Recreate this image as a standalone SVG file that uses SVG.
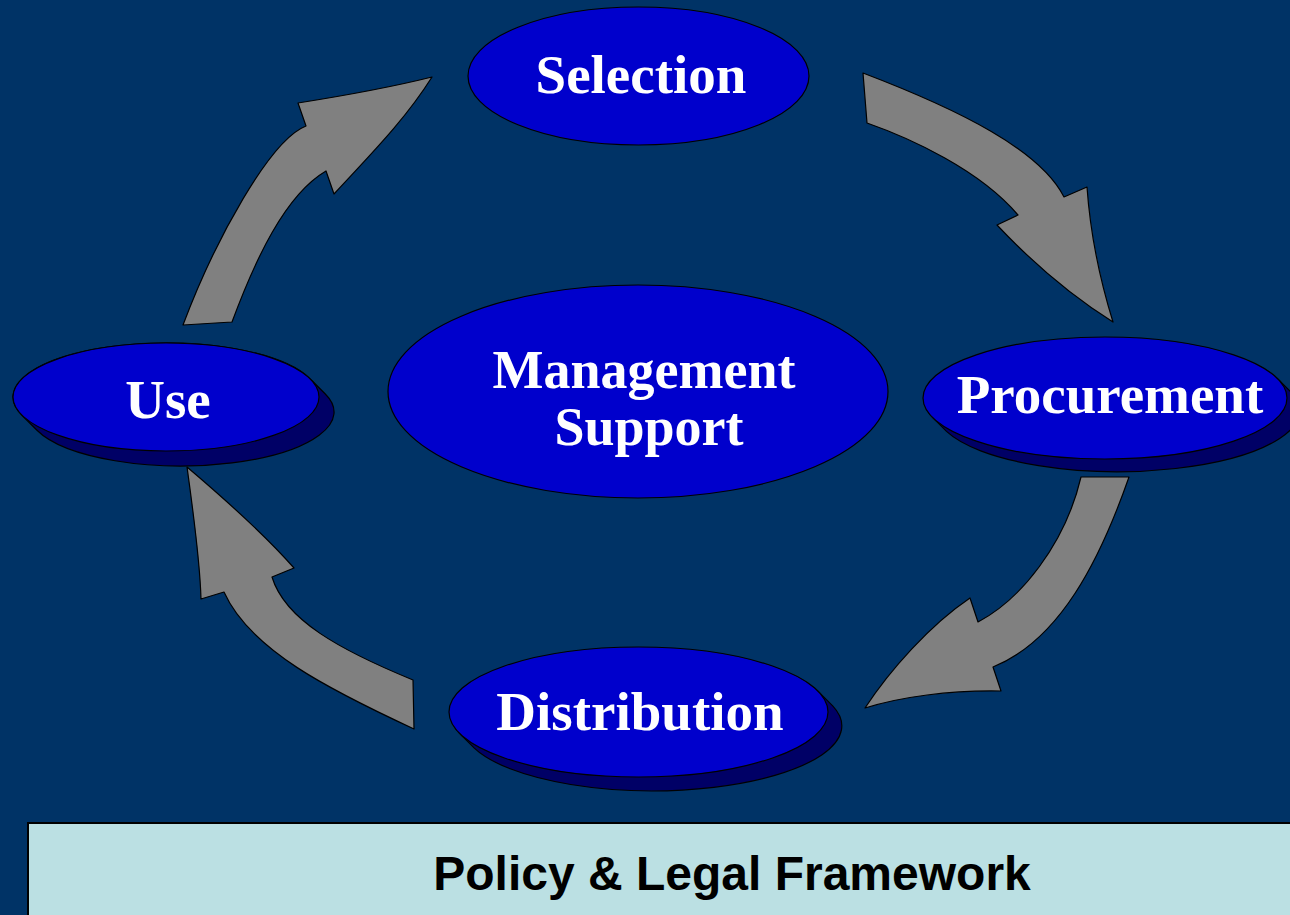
<svg xmlns="http://www.w3.org/2000/svg" width="1290" height="915" viewBox="0 0 1290 915">
<style>
.bg{fill:#003366}
.arrow{fill:#808080;stroke:#000;stroke-width:1.2;stroke-linejoin:round}
.face{fill:#0000CC;stroke:#000;stroke-width:1.2}
.side{fill:#000066;stroke:#000;stroke-width:1.2;stroke-linejoin:round}
.lbl{font-family:"Liberation Serif","Times New Roman",serif;font-weight:bold;font-size:55px;fill:#fff;text-anchor:middle}
.lbl2{font-size:54px}
.frame{fill:#BBE0E3;stroke:#000;stroke-width:2}
.ftxt{font-family:"Liberation Sans",Arial,sans-serif;font-weight:bold;font-size:48px;fill:#000;text-anchor:middle}
</style>
<rect class="bg" x="0" y="0" width="1290" height="915"/>

<g id="connectors">
  <path id="arrow-use-selection" class="arrow" d="M183,325 L232,322 C255,260 285,195 326,171 L334,194 C370,155 405,120 432,77 Q380,90 298,103 L306,126 C270,140 215,240 183,325 Z"/>
  <path id="arrow-selection-procurement" class="arrow" d="M863,73 L867,123 C910,138 980,170 1018,215 L997,225 C1030,260 1070,295 1113,322 C1100,280 1090,230 1087,187 L1064,197 C1040,150 960,110 863,73 Z"/>
  <path id="arrow-procurement-distribution" class="arrow" d="M1081,477 L1129,477 C1100,560 1060,640 993,667 L1001,691 C950,690 900,697 865,708 C890,670 930,625 970,598 L978,622 C1020,600 1065,545 1081,477 Z"/>
  <path id="arrow-distribution-use" class="arrow" d="M187,467 C220,495 265,535 294,568 L272,577 C285,620 340,650 413,680 L414,729 C330,690 250,650 224,592 L201,599 C200,560 193,510 187,467 Z"/>
</g>

<g id="node-selection">
  <ellipse class="face" cx="638.5" cy="76" rx="170.5" ry="69"/>
  <text class="lbl" x="641" y="93">Selection</text>
</g>

<g id="node-management">
  <ellipse class="face" cx="638" cy="391.5" rx="250" ry="106.5"/>
  <text class="lbl lbl2" x="644" y="388">Management</text>
  <text class="lbl lbl2" x="649" y="445">Support</text>
</g>

<g id="node-use">
  <path class="side" d="M310.3,379 L325.3,394 A153,54 0 0 1 36.7,430 L21.7,415 A153,54 0 0 1 310.3,379 Z"/>
  <ellipse class="face" cx="166" cy="397" rx="153" ry="54"/>
  <text class="lbl" x="168" y="418">Use</text>
</g>

<g id="node-procurement">
  <path class="side" d="M1277.5,378.6 L1291.5,392.6 A182,61 0 0 1 946.5,431.4 L932.5,417.4 A182,61 0 0 1 1277.5,378.6 Z"/>
  <ellipse class="face" cx="1105" cy="398" rx="182" ry="61"/>
  <text class="lbl" x="1110" y="413">Procurement</text>
</g>

<g id="node-distribution">
  <path class="side" d="M817.7,690.9 L832.7,705.9 A189.5,65 0 0 1 474.3,748.1 L459.3,733.1 A189.5,65 0 0 1 817.7,690.9 Z"/>
  <ellipse class="face" cx="638.5" cy="712" rx="189.5" ry="65"/>
  <text class="lbl" x="640" y="730">Distribution</text>
</g>

<g id="node-policy">
  <rect class="frame" x="28" y="823" width="1275" height="110"/>
  <text class="ftxt" x="732" y="890">Policy &amp; Legal Framework</text>
</g>
</svg>
